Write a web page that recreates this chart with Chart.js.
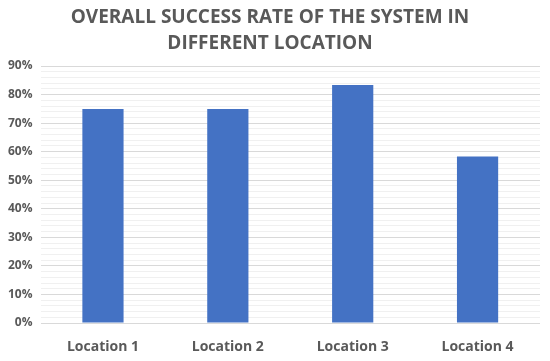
<!DOCTYPE html>
<html>
<head>
<meta charset="utf-8">
<script src="https://cdn.jsdelivr.net/npm/chart.js@4"></script>
<style>
  html, body { margin: 0; padding: 0; background: #fff; }
  #wrap { width: 550px; height: 361px; }
</style>
</head>
<body>
<div id="wrap"><canvas id="chart"></canvas></div>
<script>
const categories = ["Location 1", "Location 2", "Location 3", "Location 4"];
const successRate = [75, 75, 83.33, 58.33];
const titleLines = ["OVERALL SUCCESS RATE OF THE SYSTEM IN", "DIFFERENT LOCATION"];

const ctx = document.getElementById("chart");

new Chart(ctx, {
    type: "bar",
    data: {
        labels: categories,
        datasets: [{
            label: "Success rate",
            data: successRate,
            backgroundColor: "#4472C4",
            borderWidth: 0,
            categoryPercentage: 0.66,
            barPercentage: 0.5
        }]
    },
    options: {
        responsive: true,
        maintainAspectRatio: false,
        animation: false,
        layout: { padding: { left: 0, right: 10, top: 0, bottom: 0 } },
        plugins: {
            legend: { display: false },
            tooltip: { enabled: false },
            title: {
                display: true,
                text: titleLines,
                color: "#595959",
                font: { family: "Open Sans", size: 19, weight: "bold", lineHeight: 1.37 },
                padding: { top: 5, bottom: 9 }
            }
        },
        scales: {
            x: {
                grid: { display: false, drawTicks: false },
                border: { display: false },
                afterFit: function (scale) { scale.height = 38; },
                ticks: {
                    maxRotation: 0,
                    color: "#595959",
                    font: { family: "Open Sans", size: 14, weight: "bold" },
                    padding: 16
                }
            },
            y: {
                min: 0,
                max: 90,
                border: { display: false },
                grid: {
                    color: function (c) {
                        return c.tick && c.tick.value % 10 === 0 ? "#d9d9d9" : "#f0f0f0";
                    },
                    lineWidth: 1,
                    drawTicks: false
                },
                ticks: {
                    stepSize: 2,
                    autoSkip: false,
                    padding: 8,
                    color: "#595959",
                    font: { family: "Open Sans", size: 12, weight: "bold" },
                    callback: function (v) {
                        return v % 10 === 0 ? v + "%" : "";
                    }
                }
            }
        }
    }
});
</script>
</body>
</html>
